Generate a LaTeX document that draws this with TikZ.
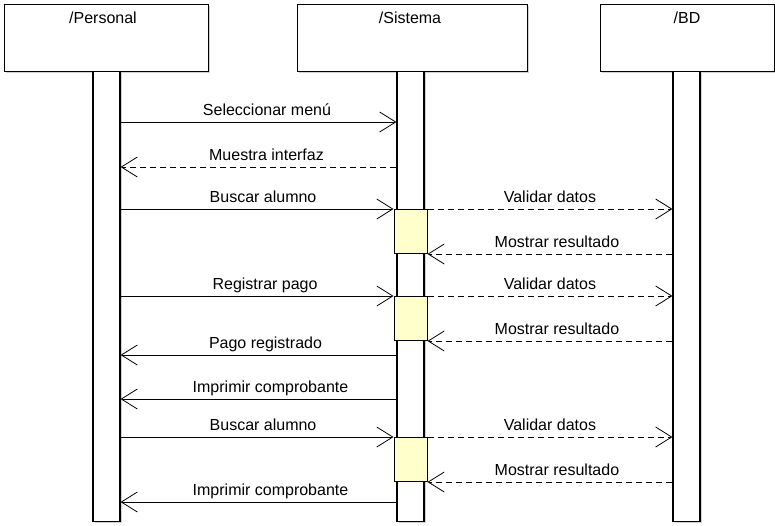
\documentclass[tikz,border=0pt]{standalone}
\usepackage{fontspec}
\setmainfont{Liberation Sans}
\usetikzlibrary{arrows.meta,positioning}
\definecolor{actfill}{RGB}{255,255,204}

\begin{document}
\begin{tikzpicture}
  [x=1pt,y=-1pt,
   font=\fontsize{16}{19}\selectfont,
   boxshadow/.style={preaction={fill=black!18,transform canvas={shift={(1.5pt,-1.5pt)}}}},
   head/.style={rectangle,draw=black,fill=white,line width=1pt,inner sep=0pt,minimum height=67pt,boxshadow},
   headtext/.style={anchor=north,inner sep=0pt,yshift=-8.5pt},
   life/.style={rectangle,draw=black,fill=white,line width=1.2pt,inner sep=0pt,minimum width=27pt,minimum height=450pt,anchor=north,boxshadow},
   act/.style={rectangle,draw=black,fill=actfill,line width=1pt,inner sep=0pt,minimum width=33pt,minimum height=44pt,anchor=north},
   call/.style={line width=0.8pt,-{Straight Barb[length=16pt,width=20pt]}},
   reply/.style={call,dash pattern=on 6pt off 4pt},
   msg/.style={midway,anchor=base,inner sep=0pt,yshift=7pt}
  ]
  \useasboundingbox (0,0) rectangle (775,525);

  % participants
  \node[head,minimum width=204pt] (personal) at (106,37.5) {};
  \node[head,minimum width=230pt] (sistema) at (412,37.5) {};
  \node[head,minimum width=174pt] (bd) at (687,37.5) {};
  \node[headtext,xshift=-3pt] at (personal.north) {/Personal};
  \node[headtext,xshift=-2pt] at (sistema.north) {/Sistema};
  \node[headtext] at (bd.north) {/BD};

  % lifelines
  \node[life] (lpers) at (106.5,71) {};
  \node[life] (lsis) at (410.5,71) {};
  \node[life] (lbd) at (686.5,71) {};

  % activations
  \node[act] (act1) at (410.5,209) {};
  \node[act] (act2) at (410.5,296) {};
  \node[act] (act3) at (410.5,437) {};

  % messages
  \draw[call] (lpers.east |- 0,122) -- node[msg,xshift=8.5pt]{Seleccionar menú} (lsis.west |- 0,122);
  \draw[reply] (lsis.west |- 0,167) -- node[msg,xshift=8pt]{Muestra interfaz} (lpers.east |- 0,167);

  \draw[call] (lpers.east |- act1.north west) -- node[msg,xshift=6pt]{Buscar alumno} (act1.north west);
  \draw[reply] (act1.north east) -- node[msg]{Validar datos} (lbd.west |- act1.north east);
  \draw[reply] (lbd.west |- act1.south east) -- node[msg,xshift=7pt]{Mostrar resultado} (act1.south east);

  \draw[call] (lpers.east |- act2.north west) -- node[msg,xshift=8pt]{Registrar pago} (act2.north west);
  \draw[reply] (act2.north east) -- node[msg]{Validar datos} (lbd.west |- act2.north east);
  \draw[reply] (lbd.west |- act2.south east) -- node[msg,xshift=7pt]{Mostrar resultado} (act2.south east);

  \draw[call] (lsis.west |- 0,355) -- node[msg,xshift=7pt]{Pago registrado} (lpers.east |- 0,355);
  \draw[call] (lsis.west |- 0,399) -- node[msg,xshift=12pt]{Imprimir comprobante} (lpers.east |- 0,399);

  \draw[call] (lpers.east |- act3.north west) -- node[msg,xshift=6pt]{Buscar alumno} (act3.north west);
  \draw[reply] (act3.north east) -- node[msg]{Validar datos} (lbd.west |- act3.north east);
  \draw[reply] (lbd.west |- act3.south east) -- node[msg,xshift=7pt]{Mostrar resultado} (act3.south east);

  \draw[call] (lsis.west |- 0,502) -- node[msg,xshift=12pt]{Imprimir comprobante} (lpers.east |- 0,502);
\end{tikzpicture}
\end{document}
